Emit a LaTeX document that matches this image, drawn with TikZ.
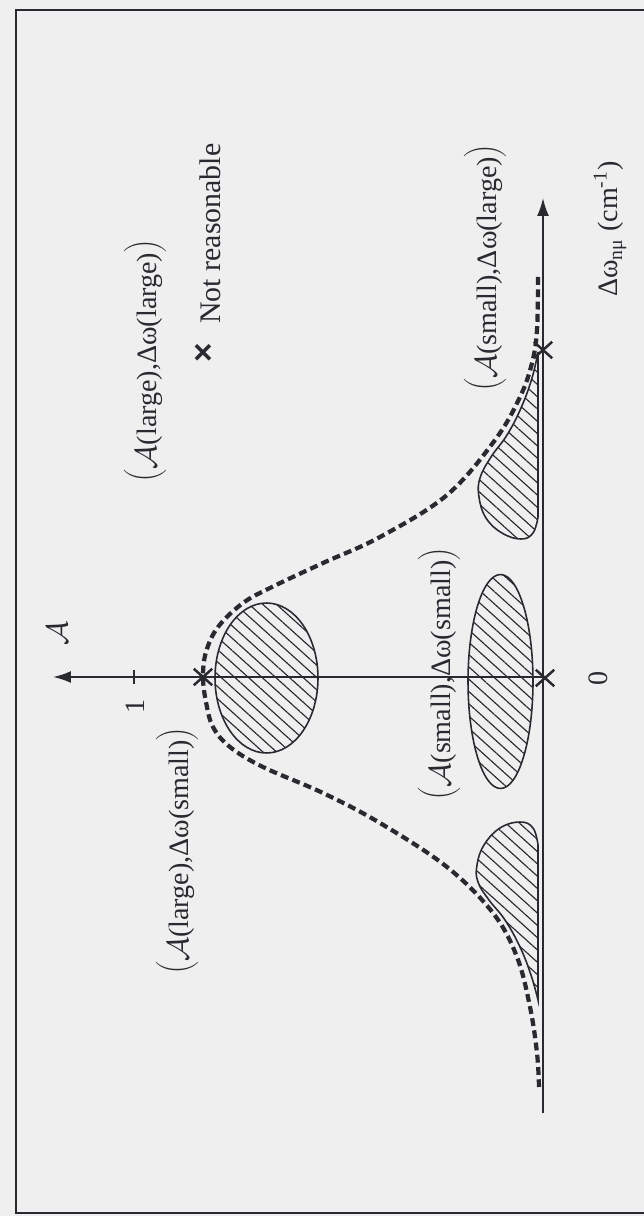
\documentclass[tikz,border=0pt]{standalone}
\usepackage{fontspec}
\setmainfont{Liberation Serif}
\newfontfamily\legsans{Liberation Sans}
\usetikzlibrary{arrows.meta,patterns.meta,shapes.misc}
\definecolor{bg}{RGB}{239,239,239}
\definecolor{ink}{RGB}{40,42,48}
\newcommand{\BigL}{\raisebox{0.12em}{$\Biggl($}}
\newcommand{\BigR}{\raisebox{0.12em}{$\Biggr)$}}
\newcommand{\calA}{$\mathcal{A}$}
\begin{document}
\begin{tikzpicture}[x=0.02cm,y=-0.02cm,
  lbl/.style={rotate=90,font=\fontsize{16}{19}\selectfont,text=ink,inner sep=0pt},
  axisline/.style={draw=ink,line width=1.1pt},
  hatch/.style={draw=ink,line width=0.9pt,pattern={Lines[angle=-42,distance=5.2pt,line width=0.65pt]},pattern color=ink},
  curve/.style={draw=ink,line width=2.4pt,dash pattern=on 4.5pt off 2.5pt},
  xmark/.style={draw=ink,cross out,line width=1.4pt,minimum width=0.32cm,minimum height=0.28cm,inner sep=0pt}]
\fill[bg] (0,0) rectangle (644,1216);
\useasboundingbox (0,0) rectangle (644,1216);
% frame (right side cut off)
\draw[ink,line width=1.2pt] (644,10) -- (16,10) -- (16,1213) -- (644,1213);

% axes
\coordinate (O) at (543,677);
\coordinate (wstart) at (543,1113);
\coordinate (wend) at (543,198);
\coordinate (aend) at (53,677);
\coordinate (t1) at (134,670);
\coordinate (t2) at (134,684);
\draw[axisline,-{Latex[length=0.36cm,width=0.24cm]}] (wstart) -- (wend);
\draw[axisline,-{Latex[length=0.36cm,width=0.24cm]}] (O) -- (aend);
\draw[axisline] (t1) -- (t2);

% hatched regions
\draw[hatch] (266.5,678) ellipse [x radius=1.03cm, y radius=1.5cm];
\draw[hatch] (500.5,681.5) ellipse [x radius=0.65cm, y radius=2.14cm];
\draw[hatch] plot[smooth, tension=0.7] coordinates {(538,1000) (531,975) (520,947) (505,920) (489,900) (478,882) (477,865) (484,845) (500,828) (520,822) (533,828) (538,845)} -- cycle;
\draw[hatch] plot[smooth, tension=0.7] coordinates {(538,352) (532,378) (521,408) (507,435) (491,457) (480,478) (479,497) (486,518) (502,533) (521,539) (533,533) (538,517)} -- cycle;

% dashed curve
\draw[curve] plot[smooth, tension=0.6] coordinates {(538,277) (537,330) (532,363) (520,397) (495,440) (447,495) (380,537) (323,563) (272,587) (243,603) (218,627) (206,652) (203,677) (206,702) (213,727) (230,747) (263,767) (323,793) (380,823) (447,867) (493,913) (517,957) (530,1007) (537,1053) (539,1087)};

% crosses
\node[xmark] (xpeak) at (203,677) {};
\node[xmark] (xorig) at (545,678) {};
\node[xmark] (xtail) at (543,350) {};

% labels
\node[lbl] (alab) at (57,633) {\calA};
\node[lbl] (one) at (135,706) {1};
\node[lbl] (zero) at (598,678) {0};
\node[lbl] (wlab) at (610,229) {Δω\textsubscript{nμ} (cm\textsuperscript{-1})};
\node[lbl] (l1) at (176,851) {\BigL\calA(large),Δω(small)\BigR};
\node[lbl] (l2) at (438,674) {\BigL\calA(small),Δω(small)\BigR};
\node[lbl] (l3) at (144,361) {\BigL\calA(large),Δω(large)\BigR};
\node[lbl] (l4) at (484,268) {\BigL\calA(small),Δω(large)\BigR};
\node[lbl,font=\legsans\bfseries\fontsize{19}{19}\selectfont] (legx) at (205,353) {×};
\node[lbl,anchor=west,font=\fontsize{17}{20}\selectfont] (legend) at (210,324) {Not reasonable};
\end{tikzpicture}
\end{document}
